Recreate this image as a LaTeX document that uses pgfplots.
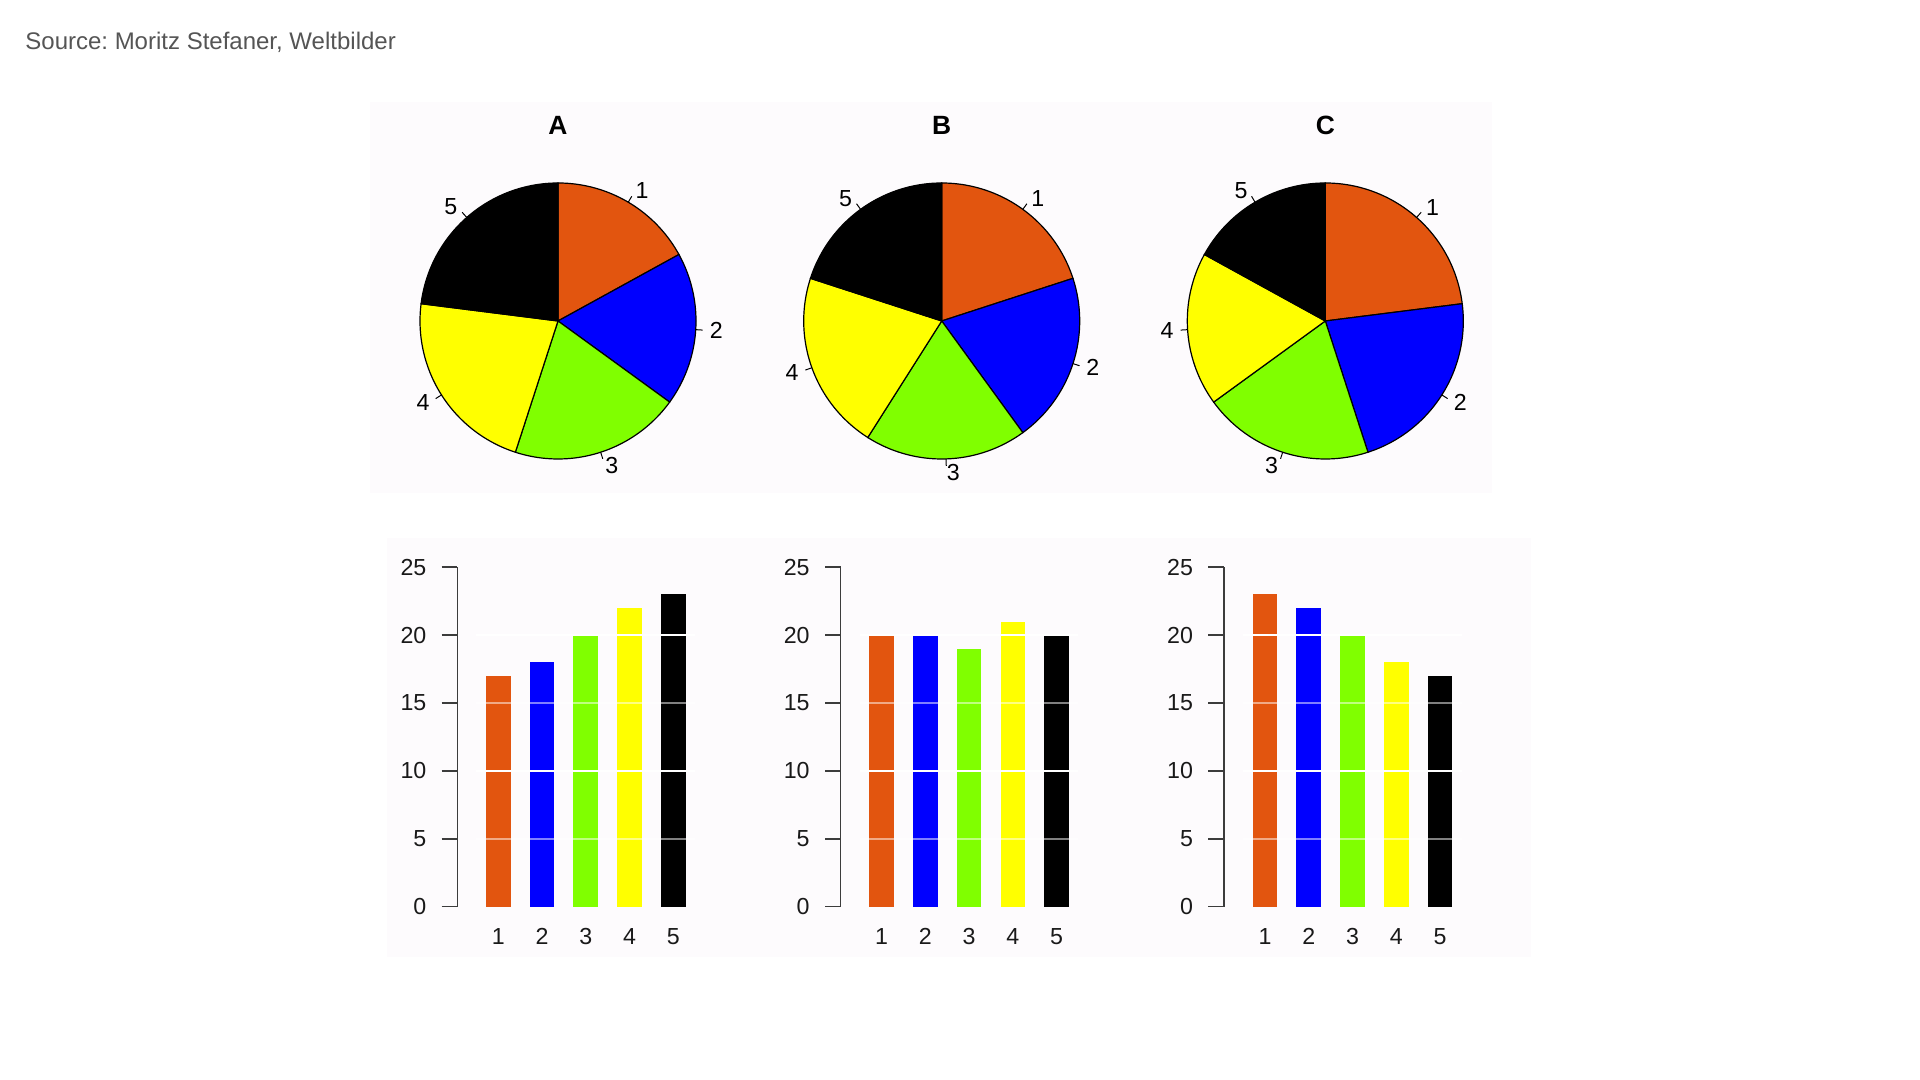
\documentclass[border=0pt]{standalone}
\usepackage{pgfplots}
\pgfplotsset{compat=1.18}
\usepackage{fontspec}
\setmainfont{Liberation Sans}
\frenchspacing
\definecolor{c1}{RGB}{226,85,15}
\definecolor{c2}{RGB}{0,0,255}
\definecolor{c3}{RGB}{128,255,0}
\definecolor{c4}{RGB}{255,255,0}
\definecolor{c5}{RGB}{0,0,0}
\definecolor{panel}{RGB}{253,251,253}
\definecolor{srcgray}{RGB}{85,85,85}
\definecolor{axgray}{RGB}{60,60,60}

\newcommand\lblfont{\fontsize{11.6}{13.5}\selectfont}
\newcommand\srcfont{\fontsize{12}{14}\selectfont}
\newcommand\ttlfont{\fontsize{13.2}{15}\selectfont\bfseries}

% one pie slice: #1 start cumulative, #2 end cumulative, #3 colour, #4 label
\newcommand\slice[4]{%
  \pgfmathsetmacro\pangA{90-(#2/\pietotal)*360}%
  \pgfmathsetmacro\pangB{90-(#1/\pietotal)*360}%
  \pgfmathsetmacro\pangM{90-((#1+#2)/\pietotal)*180}%
  \pgfmathsetmacro\pcos{cos(\pangM)}%
  \pgfmathsetmacro\psin{sin(\pangM)}%
  \ifdim\pcos pt<0pt \def\panc{east}\else\def\panc{west}\fi
  \edef\ptmp{%
    \noexpand\addplot[fill=#3, draw=black, line width=0.6pt, mark=none, domain=\pangA:\pangB, samples=90] ({cos(x)},{sin(x)}) -- (axis cs:0,0) -- cycle;
    \noexpand\draw[line width=0.5pt] (axis cs:\pcos,\psin) -- (axis cs:{1.05*\pcos},{1.05*\psin});
    \noexpand\node[anchor=\panc, inner sep=0pt, font=\noexpand\lblfont] at (axis cs:{1.1*\pcos},{1.1*\psin}) {#4};
  }\ptmp}

\newcommand\pie[5]{%
  \pgfmathsetmacro\pietotal{#1+#2+#3+#4+#5}%
  \pgfmathsetmacro\pcA{#1}%
  \pgfmathsetmacro\pcB{#1+#2}%
  \pgfmathsetmacro\pcC{#1+#2+#3}%
  \pgfmathsetmacro\pcD{#1+#2+#3+#4}%
  \slice{0}{\pcA}{c1}{1}%
  \slice{\pcA}{\pcB}{c2}{2}%
  \slice{\pcB}{\pcC}{c3}{3}%
  \slice{\pcC}{\pcD}{c4}{4}%
  \slice{\pcD}{\pietotal}{c5}{5}}

\newcommand\bars[5]{%
  \addplot[barsty, fill=c1] coordinates {(1,#1)};
  \addplot[barsty, fill=c2] coordinates {(2,#2)};
  \addplot[barsty, fill=c3] coordinates {(3,#3)};
  \addplot[barsty, fill=c4] coordinates {(4,#4)};
  \addplot[barsty, fill=c5] coordinates {(5,#5)};
  \addplot[draw=white, line width=1pt, mark=none, draw opacity=0.5] coordinates {(0.5,5) (5.5,5)};
  \addplot[draw=white, line width=1pt, mark=none] coordinates {(0.5,10) (5.5,10)};
  \addplot[draw=white, line width=1pt, mark=none, draw opacity=0.5] coordinates {(0.5,15) (5.5,15)};
  \addplot[draw=white, line width=1pt, mark=none] coordinates {(0.5,20) (5.5,20)};
}

\pgfplotsset{
  barsty/.style={ybar, bar width=12.35pt, bar shift=0pt, draw=none, mark=none},
  pieax/.style={anchor=center, x=69pt, y=69pt, xmin=-1.6, xmax=1.6, ymin=-1.6, ymax=1.6, hide axis, clip=false},
  barax/.style={anchor=south west, x=21.875pt, y=6.788pt,
    xmin=0.063, xmax=5.6, ymin=0, ymax=25,
    axis x line*=bottom, axis y line*=left,
    x axis line style={draw=none},
    y axis line style={draw=axgray, line width=0.8pt},
    ytick={0,5,...,25}, xtick={1,...,5},
    tick align=outside, major tick length=7.8pt,
    ytick style={draw=axgray, line width=0.8pt},
    xtick style={draw=none},
    tick label style={font=\lblfont, text=black!90},
    /pgf/number format/assume math mode=true,
    yticklabel style={anchor=east, inner sep=0pt, xshift=-7.5pt},
    xticklabel style={anchor=north, inner sep=0pt, yshift=-3pt},
    clip=false}
}

\begin{document}
\begin{tikzpicture}
\fill[white] (0,0) rectangle (960pt,540pt);
\fill[panel] (185pt,293.5pt) rectangle (746pt,489pt);
\fill[panel] (193.5pt,61.5pt) rectangle (765.5pt,271pt);
\node[anchor=base west, text=srcgray, font=\srcfont, inner sep=0pt] at (12.5pt,515.3pt) {Source: Moritz Stefaner, Weltbilder};

% pies
\begin{axis}[pieax, at={(279pt,379.5pt)}]
  \pie{17}{18}{20}{22}{23}
  \node[font=\ttlfont] at (axis cs:0,1.42) {A};
\end{axis}
\begin{axis}[pieax, at={(470.85pt,379.5pt)}]
  \pie{20}{20}{19}{21}{20}
  \node[font=\ttlfont] at (axis cs:0,1.42) {B};
\end{axis}
\begin{axis}[pieax, at={(662.65pt,379.5pt)}]
  \pie{23}{22}{20}{18}{17}
  \node[font=\ttlfont] at (axis cs:0,1.42) {C};
\end{axis}

% bars
\begin{axis}[barax, at={(228.65pt,86.65pt)}]
  \bars{17}{18}{20}{22}{23}
\end{axis}
\begin{axis}[barax, at={(420.3pt,86.65pt)}]
  \bars{20}{20}{19}{21}{20}
\end{axis}
\begin{axis}[barax, at={(612pt,86.65pt)}]
  \bars{23}{22}{20}{18}{17}
\end{axis}

\pgfresetboundingbox
\useasboundingbox (0,0) rectangle (960pt,540pt);
\end{tikzpicture}
\end{document}
